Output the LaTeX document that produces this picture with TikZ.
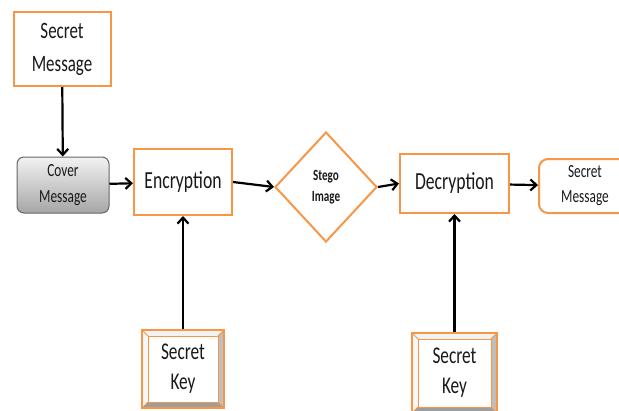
\documentclass[tikz,border=0pt]{standalone}
\usepackage{fontspec}
\setmainfont{Carlito}[FakeStretch=0.72]
\usetikzlibrary{shapes.geometric,positioning,calc,arrows.meta}
\definecolor{orng}{RGB}{247,150,70}
\definecolor{txt}{RGB}{25,25,25}
\newcommand{\fsz}[2]{\fontsize{#1}{#2}\selectfont}

\begin{document}
\begin{tikzpicture}[x=1pt, y=-1pt,
    box/.style={draw=orng, line width=2pt, fill=white, align=center, text=txt, inner sep=0pt},
    grey box/.style={draw=black!60, line width=1pt, rounded corners=7pt, top color=black!5, bottom color=black!35, align=center, text=txt, inner sep=0pt},
    keybox/.style={draw=orng, line width=1.6pt, align=center, text=txt, inner sep=0pt,
        path picture={
            \coordinate (sw) at (path picture bounding box.south west);
            \coordinate (se) at (path picture bounding box.south east);
            \coordinate (nw) at (path picture bounding box.north west);
            \coordinate (ne) at (path picture bounding box.north east);
            \fill[black!5] (nw) -- (ne) -- ([shift={(-6pt,-6pt)}]ne) -- ([shift={(6pt,-6pt)}]nw) -- cycle;
            \fill[black!3] (nw) -- (sw) -- ([shift={(6pt,6pt)}]sw) -- ([shift={(6pt,-6pt)}]nw) -- cycle;
            \fill[black!38] (sw) -- (se) -- ([shift={(-6pt,6pt)}]se) -- ([shift={(6pt,6pt)}]sw) -- cycle;
            \fill[black!25] (se) -- (ne) -- ([shift={(-6pt,-6pt)}]ne) -- ([shift={(-6pt,6pt)}]se) -- cycle;
            \draw[orng, line width=1pt] ([shift={(6pt,6pt)}]sw) rectangle ([shift={(-6pt,-6pt)}]ne);
            \draw[orng, line width=0.8pt] (sw) -- ++(6pt,6pt) (se) -- ++(-6pt,6pt) (nw) -- ++(6pt,-6pt) (ne) -- ++(-6pt,-6pt);
        }},
    arr/.style={-{Straight Barb[length=6pt,width=11pt]}, line width=2.2pt, black}]

    \useasboundingbox (0,0) rectangle (619,410);
    \clip (0,0) rectangle (619,410);

    \node[box, minimum width=97, minimum height=74, font=\fsz{23.5}{33}] (msg) at (62,49) {Secret\\Message};
    \node[grey box, minimum width=92, minimum height=56, font=\fsz{18.5}{26}] (cover) at (63,185) {Cover\\Message};
    \node[box, minimum width=98, minimum height=66, font=\fsz{24.5}{26}] (enc) at (183,182) {Encryption};
    \node[box, diamond, aspect=1, minimum width=102, minimum height=110, font=\fsz{15.5}{21}\bfseries] (stego) at (326,187) {Stego\\Image};
    \node[box, minimum width=109, minimum height=59, font=\fsz{24.5}{26}] (dec) at (454.5,183.5) {Decryption};
    \node[box, rounded corners=9pt, minimum width=92, minimum height=54, font=\fsz{18.5}{25}] (out) at (585,186) {Secret\\Message};
    \node[keybox, minimum width=82, minimum height=78, font=\fsz{24}{30}] (key1) at (183,369) {Secret\\Key};
    \node[keybox, minimum width=85, minimum height=80, font=\fsz{24}{30}] (key2) at (454.5,373) {Secret\\Key};

    % flow
    \draw[arr] (msg) -- (cover);
    \draw[arr] (cover) -- (enc);
    \draw[arr] (enc.east) -- (stego.west);
    \draw[arr] (stego.east) -- (dec.west);
    \draw[arr] (dec) -- (out);
    \draw[arr] (key1) -- (enc);
    \draw[arr] (key2) -- (dec);
\end{tikzpicture}
\end{document}
